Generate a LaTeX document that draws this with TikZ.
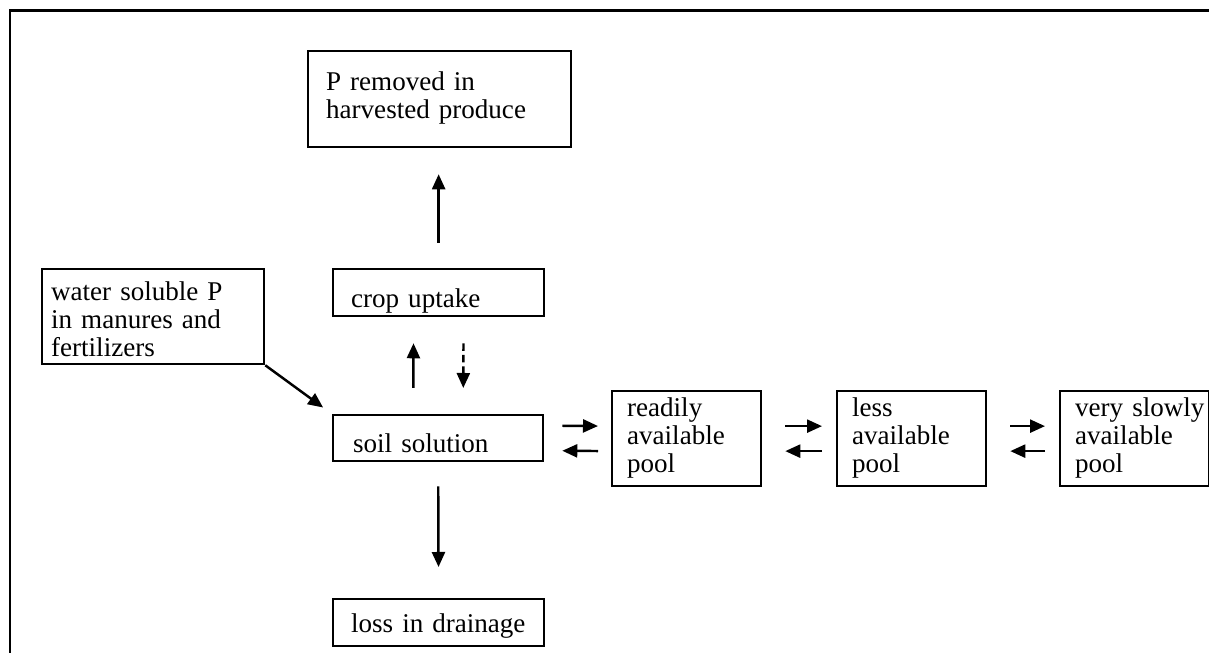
\documentclass[tikz,border=0pt]{standalone}
\usepackage{fontspec}
\setmainfont{Liberation Serif}
\usetikzlibrary{arrows.meta}

\tikzset{
  pbox/.style={draw, line width=1.3pt, anchor=north west, inner ysep=0pt, align=left,
    font=\fontsize{15.4}{16}\selectfont},
  flow/.style={line width=1.4pt, -{Triangle[length=0.30cm,width=0.26cm]}},
}

\begin{document}
\begin{tikzpicture}
\useasboundingbox (0,0) rectangle (24.18,13.06);

% Frame
\draw[line width=1.7pt] (0.2,0) -- (0.2,12.84) -- (24.18,12.84);

% Boxes
\node[pbox, inner xsep=0.36cm, text width=4.54cm, text height=0.78cm, text depth=1.14cm] (removed) at (6.14,12.06) {P removed in\\harvested produce};
\node[pbox, inner xsep=0.36cm, text width=3.50cm, text height=0.76cm, text depth=0.18cm] (crop) at (6.64,7.70) {crop uptake};
\node[pbox, inner xsep=0.18cm, text width=4.08cm, text height=0.62cm, text depth=1.28cm] (water) at (0.82,7.70) {water soluble P\\in manures and\\fertilizers};
\node[pbox, inner xsep=0.40cm, text width=3.40cm, text height=0.74cm, text depth=0.18cm] (soil) at (6.64,4.78) {soil solution};
\node[pbox, inner xsep=0.30cm, text width=2.38cm, text height=0.50cm, text depth=1.40cm] (ready) at (12.22,5.26) {readily\\available\\pool};
\node[pbox, inner xsep=0.30cm, text width=2.38cm, text height=0.50cm, text depth=1.40cm] (less) at (16.72,5.26) {less\\available\\pool};
\node[pbox, inner xsep=0.30cm, text width=2.38cm, text height=0.50cm, text depth=1.40cm] (slow) at (21.18,5.26) {very~slowly\\available\\pool};
\node[pbox, inner xsep=0.36cm, text width=3.50cm, text height=0.66cm, text depth=0.28cm] (loss) at (6.64,1.10) {loss in drainage};

% Arrows
\draw[flow, shorten <=0.5cm, shorten >=0.52cm] (crop.north) -- (crop.north |- removed.south);
\draw[flow, shorten >=0.22cm] (water.south east) -- (soil.north west);
\draw[flow, shorten <=0.52cm, shorten >=0.52cm] ([xshift=-0.5cm]soil.north) -- ([xshift=-0.5cm]crop.south);
\draw[flow, dash pattern=on 0.15cm off 0.08cm, shorten <=0.52cm, shorten >=0.52cm] ([xshift=0.5cm]crop.south) -- ([xshift=0.5cm]soil.north);
\draw[flow, shorten <=0.48cm, shorten >=0.62cm] (soil.south) -- (loss.north);

% Exchange between pools
\draw[flow, shorten <=0.36cm, shorten >=0.26cm] ([yshift=0.25cm]soil.east) -- ([yshift=0.25cm]ready.west);
\draw[flow, shorten <=0.26cm, shorten >=0.36cm] ([yshift=-0.25cm]ready.west) -- ([yshift=-0.25cm]soil.east);
\foreach \a/\b in {ready/less, less/slow}
{
\draw[flow, shorten <=0.46cm, shorten >=0.28cm] ([yshift=0.25cm]\a.east) -- ([yshift=0.25cm]\b.west);
\draw[flow, shorten <=0.28cm, shorten >=0.46cm] ([yshift=-0.25cm]\b.west) -- ([yshift=-0.25cm]\a.east);
}

\end{tikzpicture}
\end{document}
